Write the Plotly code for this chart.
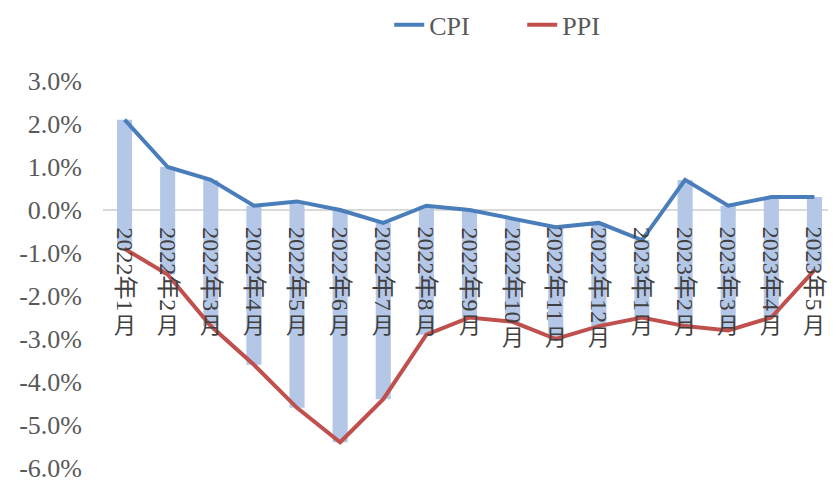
import plotly.graph_objects as go

months = ["2022年1月", "2022年2月", "2022年3月", "2022年4月", "2022年5月", "2022年6月",
          "2022年7月", "2022年8月", "2022年9月", "2022年10月", "2022年11月", "2022年12月",
          "2023年1月", "2023年2月", "2023年3月", "2023年4月", "2023年5月"]
cpi = [2.1, 1.0, 0.7, 0.1, 0.2, 0.0, -0.3, 0.1, 0.0, -0.2, -0.4, -0.3,
       -0.7, 0.7, 0.1, 0.3, 0.3]
ppi = [-0.9, -1.5, -2.7, -3.6, -4.6, -5.4, -4.4, -2.9, -2.5, -2.6, -3.0, -2.7,
       -2.5, -2.7, -2.8, -2.5, -1.4]
y_ticks = [3, 2, 1, 0, -1, -2, -3, -4, -5, -6]
y_labels = [f"{v:.1f}%" for v in y_ticks]

TEXT = "#595959"
FONT = "Liberation Serif, Noto Sans CJK SC"

fig = go.Figure()

# spread bars between CPI and PPI
fig.add_trace(go.Bar(
    x=months, y=[c - p for c, p in zip(cpi, ppi)], base=ppi,
    width=0.35, marker_color="#B4C7E7", marker_line_width=0,
    showlegend=False, hoverinfo="skip",
))
fig.add_trace(go.Scatter(
    x=months, y=cpi, name="CPI", mode="lines",
    line=dict(color="#4A7EBB", width=4),
))
fig.add_trace(go.Scatter(
    x=months, y=ppi, name="PPI", mode="lines",
    line=dict(color="#C0504D", width=4),
))

# vertical category labels hanging below the zero line
for m in months:
    head, tail = m[:-1], m[-1]
    ndig = len(head) - 1
    fig.add_annotation(
        x=m, y=0, xref="x", yref="y", text=head, textangle=90,
        showarrow=False, yanchor="top", yshift=-15,
        font=dict(family=FONT, size=24, color="#404040"),
    )
    fig.add_annotation(
        x=m, y=0, xref="x", yref="y", text=tail,
        showarrow=False, yanchor="top", yshift=-(15 + 12 * ndig + 26),
        font=dict(family=FONT, size=22, color="#404040"),
    )

# page body adds an 8px offset; margins account for it
fig.update_layout(
    width=836, height=483,
    margin=dict(l=95, r=8, t=73, b=21),
    plot_bgcolor="white", paper_bgcolor="white",
    font=dict(family=FONT, color=TEXT),
    legend=dict(
        orientation="h", xref="container", yref="container",
        x=0.456, xanchor="left", y=0.965, yanchor="middle",
        font=dict(size=26, color=TEXT), entrywidth=88,
    ),
    bargap=0.65,
)
fig.update_xaxes(showticklabels=False, showgrid=False, zeroline=False,
                 showline=False, range=[-0.5, len(months) - 0.5])
fig.update_yaxes(
    range=[-6, 3], tickvals=y_ticks, ticktext=y_labels,
    showgrid=False, showline=False, zeroline=True,
    zerolinecolor="#D9D9D9", zerolinewidth=1.5,
    tickfont=dict(size=26, color=TEXT), ticklabelstandoff=20,
)

fig.write_html("out.html")
